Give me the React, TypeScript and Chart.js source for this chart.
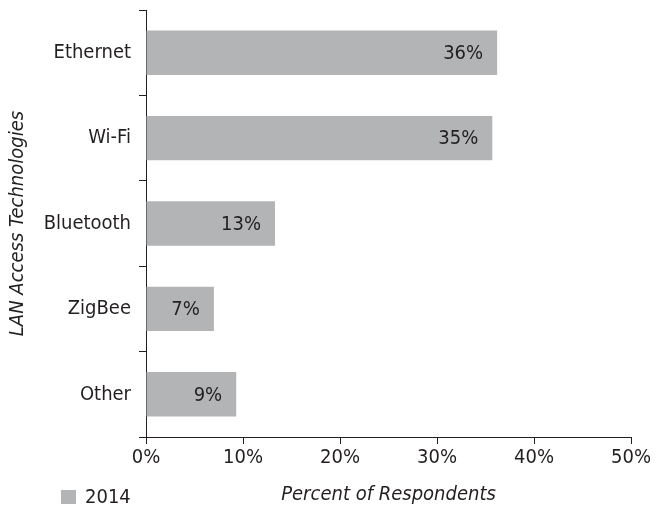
import React, { useEffect, useRef } from "react";
import { Chart, registerables } from "chart.js";

Chart.register(...registerables);

const categories = ["Ethernet", "Wi-Fi", "Bluetooth", "ZigBee", "Other"];
const values2014 = [36.2, 35.7, 13.3, 7.0, 9.3];
const valueLabels = ["36%", "35%", "13%", "7%", "9%"];
const seriesName = "2014";
const xTicks = [0, 10, 20, 30, 40, 50];

const FONT = "'DejaVu Sans Condensed', 'Liberation Sans Narrow', sans-serif";
const INK = "#231f20";
const BAR = "#b2b4b6";

const valueLabelPlugin = {
  id: "valueLabels",
  afterDatasetsDraw(chart: any) {
    const ctx = chart.ctx;
    const meta = chart.getDatasetMeta(0);
    ctx.save();
    ctx.font = `20px ${FONT}`;
    ctx.fillStyle = INK;
    ctx.textAlign = "right";
    ctx.textBaseline = "middle";
    meta.data.forEach((bar: any, i: number) => {
      ctx.fillText(valueLabels[i], bar.x - 14, bar.y + 1);
    });
    ctx.restore();
  },
};

const legendPlugin = {
  id: "customLegend",
  afterDraw(chart: any) {
    const ctx = chart.ctx;
    const ds = chart.data.datasets[0];
    ctx.save();
    ctx.fillStyle = ds.backgroundColor;
    ctx.fillRect(61, 490, 15, 14);
    ctx.font = `20px ${FONT}`;
    ctx.fillStyle = INK;
    ctx.textAlign = "left";
    ctx.textBaseline = "alphabetic";
    ctx.fillText(ds.label, 85, 503);
    ctx.restore();
  },
};

export default function App() {
  const ref = useRef<HTMLCanvasElement>(null);
  useEffect(() => {
    if (!ref.current) return;
    const chart = new Chart(ref.current, {
      type: "bar",
      data: {
        labels: categories,
        datasets: [
          {
            label: seriesName,
            data: values2014,
            backgroundColor: BAR,
            borderWidth: 0,
            barPercentage: 0.52,
            categoryPercentage: 1,
          },
        ],
      },
      options: {
        indexAxis: "y",
        animation: false,
        responsive: false,
        devicePixelRatio: 1,
        layout: { padding: { top: 10, right: 31, left: 0, bottom: 0 } },
        plugins: {
          legend: { display: false },
          tooltip: { enabled: false },
        },
        scales: {
          x: {
            min: 0,
            max: 50,
            afterBuildTicks: (scale: any) => {
              scale.ticks = xTicks.map((v) => ({ value: v }));
            },
            afterFit: (scale: any) => {
              scale.height = 72;
            },
            ticks: {
              callback: (v: any) => v + "%",
              font: { family: FONT, size: 20 },
              color: INK,
              padding: 2,
              maxRotation: 0,
            },
            grid: {
              drawOnChartArea: false,
              drawTicks: true,
              tickLength: 7,
              color: INK,
              lineWidth: 1,
            },
            border: { display: true, color: INK, width: 1 },
            title: {
              display: true,
              text: "Percent of Respondents",
              font: { family: FONT, size: 20, style: "italic" },
              color: INK,
              padding: { top: 0, bottom: 2 },
            },
          },
          y: {
            afterFit: (scale: any) => {
              scale.width = 146;
              scale.paddingTop = 0;
              scale.paddingBottom = 0;
            },
            ticks: {
              font: { family: FONT, size: 20 },
              color: INK,
              padding: 8,
            },
            grid: {
              drawOnChartArea: false,
              drawTicks: true,
              tickLength: 7,
              color: INK,
              lineWidth: 1,
              offset: true,
            },
            border: { display: true, color: INK, width: 1 },
            title: {
              display: true,
              text: "LAN Access Technologies",
              font: { family: FONT, size: 20, style: "italic" },
              color: INK,
              padding: { top: 6, bottom: 0 },
            },
          },
        },
      },
      plugins: [valueLabelPlugin, legendPlugin],
    });
    return () => chart.destroy();
  }, []);
  return (
    <div style={{ position: "fixed", left: 0, top: 0, width: 662, height: 509, background: "#fff" }}>
      <canvas ref={ref} width={662} height={509} style={{ width: 662, height: 509, display: "block" }} />
    </div>
  );
}
